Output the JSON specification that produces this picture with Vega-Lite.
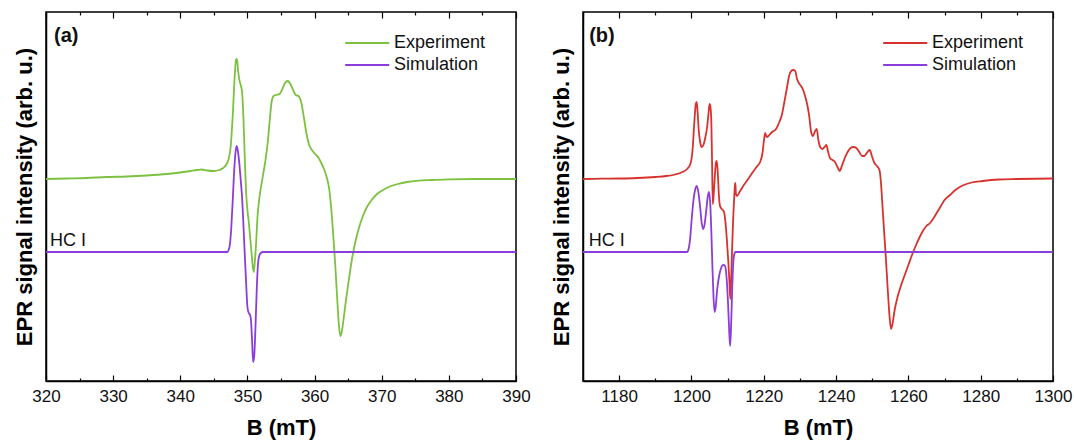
{
  "$schema": "https://vega.github.io/schema/vega-lite/v6.json",
  "padding": {"left": 12, "top": 10, "right": 0, "bottom": 0},
  "background": "white",
  "config": {
    "font": "Liberation Sans",
    "view": {"stroke": "black", "strokeWidth": 1.5},
    "axis": {
      "domainColor": "black", "domainWidth": 1.5, "tickColor": "black", "tickWidth": 1.2,
      "labelFont": "Liberation Sans", "labelFontSize": 17, "labelColor": "#111",
      "titleFont": "Liberation Sans", "titleFontSize": 22, "titleFontWeight": "bold", "titleColor": "black",
      "grid": false
    },
    "legend": {
      "labelFont": "Liberation Sans", "labelFontSize": 18, "labelColor": "#111",
      "symbolType": "M-1,0H4", "symbolSize": 310, "symbolStrokeWidth": 1.8,
      "labelOffset": 30, "rowPadding": 3, "padding": 0
    },
    "concat": {"spacing": 18}
  },
  "datasets": {
    "spectra": [
      {"panel": "a", "series": "Experiment", "B": 320, "I": 0.73},
      {"panel": "a", "series": "Experiment", "B": 323, "I": 0.735},
      {"panel": "a", "series": "Experiment", "B": 326, "I": 0.74},
      {"panel": "a", "series": "Experiment", "B": 329, "I": 0.75},
      {"panel": "a", "series": "Experiment", "B": 332, "I": 0.755},
      {"panel": "a", "series": "Experiment", "B": 335, "I": 0.765},
      {"panel": "a", "series": "Experiment", "B": 338, "I": 0.78},
      {"panel": "a", "series": "Experiment", "B": 340, "I": 0.795},
      {"panel": "a", "series": "Experiment", "B": 341.5, "I": 0.81},
      {"panel": "a", "series": "Experiment", "B": 342.5, "I": 0.82},
      {"panel": "a", "series": "Experiment", "B": 343.2, "I": 0.825},
      {"panel": "a", "series": "Experiment", "B": 344, "I": 0.815},
      {"panel": "a", "series": "Experiment", "B": 345, "I": 0.81},
      {"panel": "a", "series": "Experiment", "B": 345.8, "I": 0.82},
      {"panel": "a", "series": "Experiment", "B": 346.4, "I": 0.84},
      {"panel": "a", "series": "Experiment", "B": 346.9, "I": 0.88},
      {"panel": "a", "series": "Experiment", "B": 347.2, "I": 0.93},
      {"panel": "a", "series": "Experiment", "B": 347.5, "I": 1.05},
      {"panel": "a", "series": "Experiment", "B": 347.8, "I": 1.35},
      {"panel": "a", "series": "Experiment", "B": 348.1, "I": 1.75},
      {"panel": "a", "series": "Experiment", "B": 348.3, "I": 1.92},
      {"panel": "a", "series": "Experiment", "B": 348.45, "I": 1.93},
      {"panel": "a", "series": "Experiment", "B": 348.6, "I": 1.82},
      {"panel": "a", "series": "Experiment", "B": 348.8, "I": 1.72},
      {"panel": "a", "series": "Experiment", "B": 349.0, "I": 1.67},
      {"panel": "a", "series": "Experiment", "B": 349.2, "I": 1.6},
      {"panel": "a", "series": "Experiment", "B": 349.4, "I": 1.35},
      {"panel": "a", "series": "Experiment", "B": 349.6, "I": 0.95},
      {"panel": "a", "series": "Experiment", "B": 349.8, "I": 0.6},
      {"panel": "a", "series": "Experiment", "B": 350.0, "I": 0.42},
      {"panel": "a", "series": "Experiment", "B": 350.2, "I": 0.3},
      {"panel": "a", "series": "Experiment", "B": 350.4, "I": 0.15},
      {"panel": "a", "series": "Experiment", "B": 350.6, "I": 0.0},
      {"panel": "a", "series": "Experiment", "B": 350.8, "I": -0.15},
      {"panel": "a", "series": "Experiment", "B": 350.95, "I": -0.2},
      {"panel": "a", "series": "Experiment", "B": 351.1, "I": -0.1},
      {"panel": "a", "series": "Experiment", "B": 351.3, "I": 0.1},
      {"panel": "a", "series": "Experiment", "B": 351.5, "I": 0.35},
      {"panel": "a", "series": "Experiment", "B": 351.8, "I": 0.55},
      {"panel": "a", "series": "Experiment", "B": 352.2, "I": 0.72},
      {"panel": "a", "series": "Experiment", "B": 352.6, "I": 0.88},
      {"panel": "a", "series": "Experiment", "B": 353.0, "I": 1.08},
      {"panel": "a", "series": "Experiment", "B": 353.3, "I": 1.3},
      {"panel": "a", "series": "Experiment", "B": 353.6, "I": 1.5},
      {"panel": "a", "series": "Experiment", "B": 353.9, "I": 1.56},
      {"panel": "a", "series": "Experiment", "B": 354.3, "I": 1.57},
      {"panel": "a", "series": "Experiment", "B": 354.8, "I": 1.58},
      {"panel": "a", "series": "Experiment", "B": 355.2, "I": 1.63},
      {"panel": "a", "series": "Experiment", "B": 355.6, "I": 1.69},
      {"panel": "a", "series": "Experiment", "B": 356.0, "I": 1.71},
      {"panel": "a", "series": "Experiment", "B": 356.4, "I": 1.68},
      {"panel": "a", "series": "Experiment", "B": 356.8, "I": 1.62},
      {"panel": "a", "series": "Experiment", "B": 357.2, "I": 1.57},
      {"panel": "a", "series": "Experiment", "B": 357.6, "I": 1.56},
      {"panel": "a", "series": "Experiment", "B": 358.0, "I": 1.5},
      {"panel": "a", "series": "Experiment", "B": 358.4, "I": 1.35},
      {"panel": "a", "series": "Experiment", "B": 358.8, "I": 1.18},
      {"panel": "a", "series": "Experiment", "B": 359.2, "I": 1.07},
      {"panel": "a", "series": "Experiment", "B": 359.6, "I": 1.02},
      {"panel": "a", "series": "Experiment", "B": 360.1, "I": 0.98},
      {"panel": "a", "series": "Experiment", "B": 360.6, "I": 0.94},
      {"panel": "a", "series": "Experiment", "B": 361.0, "I": 0.89},
      {"panel": "a", "series": "Experiment", "B": 361.4, "I": 0.83},
      {"panel": "a", "series": "Experiment", "B": 361.8, "I": 0.75},
      {"panel": "a", "series": "Experiment", "B": 362.2, "I": 0.62},
      {"panel": "a", "series": "Experiment", "B": 362.5, "I": 0.42},
      {"panel": "a", "series": "Experiment", "B": 362.8, "I": 0.15},
      {"panel": "a", "series": "Experiment", "B": 363.1, "I": -0.15},
      {"panel": "a", "series": "Experiment", "B": 363.4, "I": -0.5},
      {"panel": "a", "series": "Experiment", "B": 363.65, "I": -0.75},
      {"panel": "a", "series": "Experiment", "B": 363.85, "I": -0.84},
      {"panel": "a", "series": "Experiment", "B": 364.05, "I": -0.8},
      {"panel": "a", "series": "Experiment", "B": 364.3, "I": -0.68},
      {"panel": "a", "series": "Experiment", "B": 364.7, "I": -0.47},
      {"panel": "a", "series": "Experiment", "B": 365.1, "I": -0.28},
      {"panel": "a", "series": "Experiment", "B": 365.5, "I": -0.1},
      {"panel": "a", "series": "Experiment", "B": 366.0, "I": 0.08},
      {"panel": "a", "series": "Experiment", "B": 366.6, "I": 0.24},
      {"panel": "a", "series": "Experiment", "B": 367.2, "I": 0.36},
      {"panel": "a", "series": "Experiment", "B": 367.8, "I": 0.45},
      {"panel": "a", "series": "Experiment", "B": 368.5, "I": 0.52},
      {"panel": "a", "series": "Experiment", "B": 369.3, "I": 0.58},
      {"panel": "a", "series": "Experiment", "B": 370.2, "I": 0.62},
      {"panel": "a", "series": "Experiment", "B": 371.2, "I": 0.655},
      {"panel": "a", "series": "Experiment", "B": 372.4, "I": 0.68},
      {"panel": "a", "series": "Experiment", "B": 373.8, "I": 0.7},
      {"panel": "a", "series": "Experiment", "B": 375.5, "I": 0.713},
      {"panel": "a", "series": "Experiment", "B": 377.5, "I": 0.72},
      {"panel": "a", "series": "Experiment", "B": 380, "I": 0.727},
      {"panel": "a", "series": "Experiment", "B": 384, "I": 0.73},
      {"panel": "a", "series": "Experiment", "B": 390, "I": 0.73},
      {"panel": "a", "series": "Simulation", "B": 320, "I": 0},
      {"panel": "a", "series": "Simulation", "B": 347.0, "I": 0},
      {"panel": "a", "series": "Simulation", "B": 347.2, "I": 0.02},
      {"panel": "a", "series": "Simulation", "B": 347.4, "I": 0.08},
      {"panel": "a", "series": "Simulation", "B": 347.6, "I": 0.25},
      {"panel": "a", "series": "Simulation", "B": 347.8, "I": 0.5},
      {"panel": "a", "series": "Simulation", "B": 348.0, "I": 0.78},
      {"panel": "a", "series": "Simulation", "B": 348.2, "I": 0.98},
      {"panel": "a", "series": "Simulation", "B": 348.4, "I": 1.06},
      {"panel": "a", "series": "Simulation", "B": 348.6, "I": 1.0},
      {"panel": "a", "series": "Simulation", "B": 348.8, "I": 0.88},
      {"panel": "a", "series": "Simulation", "B": 349.0, "I": 0.72},
      {"panel": "a", "series": "Simulation", "B": 349.2, "I": 0.55},
      {"panel": "a", "series": "Simulation", "B": 349.4, "I": 0.28},
      {"panel": "a", "series": "Simulation", "B": 349.6, "I": -0.02},
      {"panel": "a", "series": "Simulation", "B": 349.8, "I": -0.3},
      {"panel": "a", "series": "Simulation", "B": 350.0, "I": -0.55},
      {"panel": "a", "series": "Simulation", "B": 350.2, "I": -0.61},
      {"panel": "a", "series": "Simulation", "B": 350.4, "I": -0.63},
      {"panel": "a", "series": "Simulation", "B": 350.55, "I": -0.7},
      {"panel": "a", "series": "Simulation", "B": 350.7, "I": -0.9},
      {"panel": "a", "series": "Simulation", "B": 350.85, "I": -1.1},
      {"panel": "a", "series": "Simulation", "B": 351.0, "I": -1.05},
      {"panel": "a", "series": "Simulation", "B": 351.2, "I": -0.75},
      {"panel": "a", "series": "Simulation", "B": 351.4, "I": -0.35},
      {"panel": "a", "series": "Simulation", "B": 351.6, "I": -0.1},
      {"panel": "a", "series": "Simulation", "B": 351.8, "I": -0.03},
      {"panel": "a", "series": "Simulation", "B": 352.0, "I": -0.01},
      {"panel": "a", "series": "Simulation", "B": 352.3, "I": 0},
      {"panel": "a", "series": "Simulation", "B": 390, "I": 0},
      {"panel": "b", "series": "Experiment", "B": 1170, "I": 0.73},
      {"panel": "b", "series": "Experiment", "B": 1175, "I": 0.733},
      {"panel": "b", "series": "Experiment", "B": 1180, "I": 0.735},
      {"panel": "b", "series": "Experiment", "B": 1185, "I": 0.74},
      {"panel": "b", "series": "Experiment", "B": 1190, "I": 0.75},
      {"panel": "b", "series": "Experiment", "B": 1193, "I": 0.76},
      {"panel": "b", "series": "Experiment", "B": 1195.5, "I": 0.775},
      {"panel": "b", "series": "Experiment", "B": 1197.5, "I": 0.8},
      {"panel": "b", "series": "Experiment", "B": 1198.8, "I": 0.83},
      {"panel": "b", "series": "Experiment", "B": 1199.7, "I": 0.88},
      {"panel": "b", "series": "Experiment", "B": 1200.3, "I": 1.02},
      {"panel": "b", "series": "Experiment", "B": 1200.8, "I": 1.3},
      {"panel": "b", "series": "Experiment", "B": 1201.2, "I": 1.48},
      {"panel": "b", "series": "Experiment", "B": 1201.45, "I": 1.5},
      {"panel": "b", "series": "Experiment", "B": 1201.7, "I": 1.4},
      {"panel": "b", "series": "Experiment", "B": 1202.0, "I": 1.22},
      {"panel": "b", "series": "Experiment", "B": 1202.4, "I": 1.1},
      {"panel": "b", "series": "Experiment", "B": 1202.8, "I": 1.05},
      {"panel": "b", "series": "Experiment", "B": 1203.3, "I": 1.07},
      {"panel": "b", "series": "Experiment", "B": 1203.8, "I": 1.14},
      {"panel": "b", "series": "Experiment", "B": 1204.3, "I": 1.24},
      {"panel": "b", "series": "Experiment", "B": 1204.7, "I": 1.38},
      {"panel": "b", "series": "Experiment", "B": 1205.0, "I": 1.48},
      {"panel": "b", "series": "Experiment", "B": 1205.25, "I": 1.45},
      {"panel": "b", "series": "Experiment", "B": 1205.5, "I": 1.3},
      {"panel": "b", "series": "Experiment", "B": 1205.7, "I": 0.9},
      {"panel": "b", "series": "Experiment", "B": 1205.9, "I": 0.48},
      {"panel": "b", "series": "Experiment", "B": 1206.1, "I": 0.55},
      {"panel": "b", "series": "Experiment", "B": 1206.4, "I": 0.72},
      {"panel": "b", "series": "Experiment", "B": 1206.8, "I": 0.9},
      {"panel": "b", "series": "Experiment", "B": 1207.0, "I": 0.91},
      {"panel": "b", "series": "Experiment", "B": 1207.3, "I": 0.78},
      {"panel": "b", "series": "Experiment", "B": 1207.6, "I": 0.56},
      {"panel": "b", "series": "Experiment", "B": 1207.9, "I": 0.46},
      {"panel": "b", "series": "Experiment", "B": 1208.4, "I": 0.43},
      {"panel": "b", "series": "Experiment", "B": 1209.0, "I": 0.4},
      {"panel": "b", "series": "Experiment", "B": 1209.4, "I": 0.3},
      {"panel": "b", "series": "Experiment", "B": 1209.8, "I": 0.12},
      {"panel": "b", "series": "Experiment", "B": 1210.2, "I": -0.1},
      {"panel": "b", "series": "Experiment", "B": 1210.5, "I": -0.3},
      {"panel": "b", "series": "Experiment", "B": 1210.75, "I": -0.47},
      {"panel": "b", "series": "Experiment", "B": 1210.95, "I": -0.3},
      {"panel": "b", "series": "Experiment", "B": 1211.2, "I": -0.02},
      {"panel": "b", "series": "Experiment", "B": 1211.5, "I": 0.3},
      {"panel": "b", "series": "Experiment", "B": 1211.8, "I": 0.53},
      {"panel": "b", "series": "Experiment", "B": 1212.0, "I": 0.66},
      {"panel": "b", "series": "Experiment", "B": 1212.15, "I": 0.69},
      {"panel": "b", "series": "Experiment", "B": 1212.3, "I": 0.58},
      {"panel": "b", "series": "Experiment", "B": 1212.6, "I": 0.56},
      {"panel": "b", "series": "Experiment", "B": 1213.3, "I": 0.6},
      {"panel": "b", "series": "Experiment", "B": 1214.3, "I": 0.66},
      {"panel": "b", "series": "Experiment", "B": 1215.5, "I": 0.72},
      {"panel": "b", "series": "Experiment", "B": 1216.8, "I": 0.79},
      {"panel": "b", "series": "Experiment", "B": 1218.0, "I": 0.85},
      {"panel": "b", "series": "Experiment", "B": 1219.0, "I": 0.9},
      {"panel": "b", "series": "Experiment", "B": 1219.6, "I": 0.98},
      {"panel": "b", "series": "Experiment", "B": 1220.0, "I": 1.1},
      {"panel": "b", "series": "Experiment", "B": 1220.4, "I": 1.19},
      {"panel": "b", "series": "Experiment", "B": 1220.8, "I": 1.15},
      {"panel": "b", "series": "Experiment", "B": 1221.3, "I": 1.16},
      {"panel": "b", "series": "Experiment", "B": 1222.3, "I": 1.2},
      {"panel": "b", "series": "Experiment", "B": 1223.4, "I": 1.23},
      {"panel": "b", "series": "Experiment", "B": 1224.3, "I": 1.3},
      {"panel": "b", "series": "Experiment", "B": 1225.0, "I": 1.37},
      {"panel": "b", "series": "Experiment", "B": 1225.7, "I": 1.5},
      {"panel": "b", "series": "Experiment", "B": 1226.4, "I": 1.64},
      {"panel": "b", "series": "Experiment", "B": 1227.0, "I": 1.76},
      {"panel": "b", "series": "Experiment", "B": 1227.6, "I": 1.81},
      {"panel": "b", "series": "Experiment", "B": 1228.2, "I": 1.82},
      {"panel": "b", "series": "Experiment", "B": 1228.7, "I": 1.81},
      {"panel": "b", "series": "Experiment", "B": 1229.2, "I": 1.73},
      {"panel": "b", "series": "Experiment", "B": 1229.7, "I": 1.69},
      {"panel": "b", "series": "Experiment", "B": 1230.3, "I": 1.66},
      {"panel": "b", "series": "Experiment", "B": 1230.9, "I": 1.62},
      {"panel": "b", "series": "Experiment", "B": 1231.5, "I": 1.55},
      {"panel": "b", "series": "Experiment", "B": 1232.1, "I": 1.46},
      {"panel": "b", "series": "Experiment", "B": 1232.6, "I": 1.35},
      {"panel": "b", "series": "Experiment", "B": 1233.1, "I": 1.2},
      {"panel": "b", "series": "Experiment", "B": 1233.6, "I": 1.16},
      {"panel": "b", "series": "Experiment", "B": 1234.2, "I": 1.21},
      {"panel": "b", "series": "Experiment", "B": 1234.65, "I": 1.23},
      {"panel": "b", "series": "Experiment", "B": 1235.1, "I": 1.12},
      {"panel": "b", "series": "Experiment", "B": 1235.6, "I": 1.05},
      {"panel": "b", "series": "Experiment", "B": 1236.2, "I": 1.03},
      {"panel": "b", "series": "Experiment", "B": 1236.8, "I": 1.05},
      {"panel": "b", "series": "Experiment", "B": 1237.3, "I": 1.07},
      {"panel": "b", "series": "Experiment", "B": 1237.8, "I": 1.0},
      {"panel": "b", "series": "Experiment", "B": 1238.3, "I": 0.94},
      {"panel": "b", "series": "Experiment", "B": 1239.0, "I": 0.92},
      {"panel": "b", "series": "Experiment", "B": 1239.7, "I": 0.9},
      {"panel": "b", "series": "Experiment", "B": 1240.4, "I": 0.85},
      {"panel": "b", "series": "Experiment", "B": 1241.0, "I": 0.81},
      {"panel": "b", "series": "Experiment", "B": 1241.6, "I": 0.86},
      {"panel": "b", "series": "Experiment", "B": 1242.4, "I": 0.94},
      {"panel": "b", "series": "Experiment", "B": 1243.2, "I": 1.0},
      {"panel": "b", "series": "Experiment", "B": 1244.0, "I": 1.04},
      {"panel": "b", "series": "Experiment", "B": 1244.8, "I": 1.05},
      {"panel": "b", "series": "Experiment", "B": 1245.6, "I": 1.04},
      {"panel": "b", "series": "Experiment", "B": 1246.4, "I": 1.0},
      {"panel": "b", "series": "Experiment", "B": 1247.2, "I": 0.96},
      {"panel": "b", "series": "Experiment", "B": 1247.8, "I": 0.96},
      {"panel": "b", "series": "Experiment", "B": 1248.5, "I": 0.99},
      {"panel": "b", "series": "Experiment", "B": 1249.3, "I": 1.02},
      {"panel": "b", "series": "Experiment", "B": 1249.9, "I": 0.96},
      {"panel": "b", "series": "Experiment", "B": 1250.6, "I": 0.89},
      {"panel": "b", "series": "Experiment", "B": 1251.3, "I": 0.86},
      {"panel": "b", "series": "Experiment", "B": 1252.0, "I": 0.82},
      {"panel": "b", "series": "Experiment", "B": 1252.4, "I": 0.7},
      {"panel": "b", "series": "Experiment", "B": 1252.8, "I": 0.48},
      {"panel": "b", "series": "Experiment", "B": 1253.3, "I": 0.2},
      {"panel": "b", "series": "Experiment", "B": 1253.8, "I": -0.08},
      {"panel": "b", "series": "Experiment", "B": 1254.3, "I": -0.38},
      {"panel": "b", "series": "Experiment", "B": 1254.8, "I": -0.65},
      {"panel": "b", "series": "Experiment", "B": 1255.2, "I": -0.77},
      {"panel": "b", "series": "Experiment", "B": 1255.6, "I": -0.72},
      {"panel": "b", "series": "Experiment", "B": 1256.2, "I": -0.58},
      {"panel": "b", "series": "Experiment", "B": 1257.0, "I": -0.45},
      {"panel": "b", "series": "Experiment", "B": 1258.0, "I": -0.33},
      {"panel": "b", "series": "Experiment", "B": 1259.0, "I": -0.23},
      {"panel": "b", "series": "Experiment", "B": 1260.0, "I": -0.13},
      {"panel": "b", "series": "Experiment", "B": 1261.0, "I": -0.03},
      {"panel": "b", "series": "Experiment", "B": 1262.0, "I": 0.06},
      {"panel": "b", "series": "Experiment", "B": 1263.0, "I": 0.14},
      {"panel": "b", "series": "Experiment", "B": 1264.0, "I": 0.21},
      {"panel": "b", "series": "Experiment", "B": 1265.0, "I": 0.26},
      {"panel": "b", "series": "Experiment", "B": 1266.0, "I": 0.29},
      {"panel": "b", "series": "Experiment", "B": 1267.0, "I": 0.34},
      {"panel": "b", "series": "Experiment", "B": 1268.0, "I": 0.4},
      {"panel": "b", "series": "Experiment", "B": 1269.0, "I": 0.46},
      {"panel": "b", "series": "Experiment", "B": 1270.0, "I": 0.52},
      {"panel": "b", "series": "Experiment", "B": 1271.5, "I": 0.57},
      {"panel": "b", "series": "Experiment", "B": 1273.0, "I": 0.62},
      {"panel": "b", "series": "Experiment", "B": 1275.0, "I": 0.665},
      {"panel": "b", "series": "Experiment", "B": 1277.5, "I": 0.695},
      {"panel": "b", "series": "Experiment", "B": 1280.5, "I": 0.71},
      {"panel": "b", "series": "Experiment", "B": 1285, "I": 0.725},
      {"panel": "b", "series": "Experiment", "B": 1290, "I": 0.73},
      {"panel": "b", "series": "Experiment", "B": 1300, "I": 0.735},
      {"panel": "b", "series": "Simulation", "B": 1170, "I": 0},
      {"panel": "b", "series": "Simulation", "B": 1198.8, "I": 0},
      {"panel": "b", "series": "Simulation", "B": 1199.2, "I": 0.03},
      {"panel": "b", "series": "Simulation", "B": 1199.6, "I": 0.12},
      {"panel": "b", "series": "Simulation", "B": 1200.0, "I": 0.3},
      {"panel": "b", "series": "Simulation", "B": 1200.5, "I": 0.5},
      {"panel": "b", "series": "Simulation", "B": 1201.0, "I": 0.62},
      {"panel": "b", "series": "Simulation", "B": 1201.45, "I": 0.66},
      {"panel": "b", "series": "Simulation", "B": 1201.9, "I": 0.6},
      {"panel": "b", "series": "Simulation", "B": 1202.4, "I": 0.45},
      {"panel": "b", "series": "Simulation", "B": 1202.8, "I": 0.3},
      {"panel": "b", "series": "Simulation", "B": 1203.2, "I": 0.23},
      {"panel": "b", "series": "Simulation", "B": 1203.6, "I": 0.27},
      {"panel": "b", "series": "Simulation", "B": 1204.1, "I": 0.42},
      {"panel": "b", "series": "Simulation", "B": 1204.5, "I": 0.55},
      {"panel": "b", "series": "Simulation", "B": 1204.85, "I": 0.6},
      {"panel": "b", "series": "Simulation", "B": 1205.2, "I": 0.48},
      {"panel": "b", "series": "Simulation", "B": 1205.5, "I": 0.2},
      {"panel": "b", "series": "Simulation", "B": 1205.8, "I": -0.15},
      {"panel": "b", "series": "Simulation", "B": 1206.1, "I": -0.45},
      {"panel": "b", "series": "Simulation", "B": 1206.4, "I": -0.6},
      {"panel": "b", "series": "Simulation", "B": 1206.7, "I": -0.55},
      {"panel": "b", "series": "Simulation", "B": 1207.1, "I": -0.38},
      {"panel": "b", "series": "Simulation", "B": 1207.6, "I": -0.25},
      {"panel": "b", "series": "Simulation", "B": 1208.2, "I": -0.16},
      {"panel": "b", "series": "Simulation", "B": 1208.8, "I": -0.13},
      {"panel": "b", "series": "Simulation", "B": 1209.3, "I": -0.14},
      {"panel": "b", "series": "Simulation", "B": 1209.7, "I": -0.25},
      {"panel": "b", "series": "Simulation", "B": 1210.1, "I": -0.5},
      {"panel": "b", "series": "Simulation", "B": 1210.45, "I": -0.8},
      {"panel": "b", "series": "Simulation", "B": 1210.7, "I": -0.94},
      {"panel": "b", "series": "Simulation", "B": 1210.95, "I": -0.75},
      {"panel": "b", "series": "Simulation", "B": 1211.2, "I": -0.45},
      {"panel": "b", "series": "Simulation", "B": 1211.5, "I": -0.15},
      {"panel": "b", "series": "Simulation", "B": 1211.8, "I": -0.03},
      {"panel": "b", "series": "Simulation", "B": 1212.2, "I": 0},
      {"panel": "b", "series": "Simulation", "B": 1300, "I": 0}
    ]
  },
  "hconcat": [
    {
      "width": 470,
      "height": 369,
      "layer": [
        {
          "data": {"name": "spectra"},
          "transform": [{"filter": "datum.panel === 'a'"}],
          "mark": {"type": "line", "strokeWidth": 1.8, "interpolate": "monotone"},
          "encoding": {
            "x": {
              "field": "B", "type": "quantitative",
              "scale": {"domain": [320, 390], "nice": false, "zero": false},
              "axis": {
                "title": "B (mT)",
                "values": [320, 325, 330, 335, 340, 345, 350, 355, 360, 365, 370, 375, 380, 385, 390],
                "labelExpr": "datum.value % 10 === 0 ? datum.label : ''",
                "tickSize": {"condition": {"test": "datum.value % 10 === 0", "value": -6}, "value": -3},
                "labelPadding": 13.5, "titlePadding": 10, "labelFlush": false, "labelOverlap": false
              }
            },
            "y": {
              "field": "I", "type": "quantitative",
              "scale": {"domain": [-1.29, 2.4], "nice": false, "zero": false},
              "axis": {"title": "EPR signal intensity (arb. u.)", "labels": false, "ticks": false, "titlePadding": 10}
            },
            "color": {
              "field": "series", "type": "nominal",
              "scale": {"domain": ["Experiment", "Simulation"], "range": ["#7cc13f", "#8a3ddb"]},
              "legend": {"title": null, "orient": "none", "legendX": 298, "legendY": 21}
            }
          }
        },
        {
          "data": {"values": [{"B": 321.2, "I": 2.16, "label": "(a)"}]},
          "mark": {"type": "text", "align": "left", "baseline": "middle", "fontWeight": "bold", "fontSize": 20, "color": "#111"},
          "encoding": {
            "x": {
              "field": "B", "type": "quantitative",
              "axis": {
                "orient": "top", "labels": false, "title": null, "domain": false,
                "values": [320, 325, 330, 335, 340, 345, 350, 355, 360, 365, 370, 375, 380, 385, 390],
                "tickSize": {"condition": {"test": "datum.value % 10 === 0", "value": -6}, "value": -3}
              }
            },
            "y": {"field": "I", "type": "quantitative"},
            "text": {"field": "label"}
          }
        },
        {
          "data": {"values": [{"B": 320.6, "I": 0.11, "label": "HC I"}]},
          "mark": {"type": "text", "align": "left", "baseline": "middle", "fontSize": 18, "color": "#111"},
          "encoding": {
            "x": {"field": "B", "type": "quantitative", "axis": null},
            "y": {"field": "I", "type": "quantitative"},
            "text": {"field": "label"}
          }
        }
      ],
      "resolve": {"axis": {"x": "independent"}}
    },
    {
      "width": 470,
      "height": 369,
      "layer": [
        {
          "data": {"name": "spectra"},
          "transform": [{"filter": "datum.panel === 'b'"}],
          "mark": {"type": "line", "strokeWidth": 1.8, "interpolate": "monotone"},
          "encoding": {
            "x": {
              "field": "B", "type": "quantitative",
              "scale": {"domain": [1170, 1300], "nice": false, "zero": false},
              "axis": {
                "title": "B (mT)", "format": "d",
                "values": [1170, 1180, 1190, 1200, 1210, 1220, 1230, 1240, 1250, 1260, 1270, 1280, 1290, 1300],
                "labelExpr": "datum.value % 20 === 0 ? datum.label : ''",
                "tickSize": {"condition": {"test": "datum.value % 20 === 0", "value": -6}, "value": -3},
                "labelPadding": 13.5, "titlePadding": 10, "labelFlush": false, "labelOverlap": false
              }
            },
            "y": {
              "field": "I", "type": "quantitative",
              "scale": {"domain": [-1.29, 2.4], "nice": false, "zero": false},
              "axis": {"title": "EPR signal intensity (arb. u.)", "labels": false, "ticks": false, "titlePadding": 10}
            },
            "color": {
              "field": "series", "type": "nominal",
              "scale": {"domain": ["Experiment", "Simulation"], "range": ["#d8322e", "#8a3ddb"]},
              "legend": {"title": null, "orient": "none", "legendX": 299, "legendY": 21}
            }
          }
        },
        {
          "data": {"values": [{"B": 1171.7, "I": 2.16, "label": "(b)"}]},
          "mark": {"type": "text", "align": "left", "baseline": "middle", "fontWeight": "bold", "fontSize": 20, "color": "#111"},
          "encoding": {
            "x": {
              "field": "B", "type": "quantitative",
              "axis": {
                "orient": "top", "labels": false, "title": null, "domain": false,
                "values": [1170, 1180, 1190, 1200, 1210, 1220, 1230, 1240, 1250, 1260, 1270, 1280, 1290, 1300],
                "tickSize": {"condition": {"test": "datum.value % 20 === 0", "value": -6}, "value": -3}
              }
            },
            "y": {"field": "I", "type": "quantitative"},
            "text": {"field": "label"}
          }
        },
        {
          "data": {"values": [{"B": 1171.6, "I": 0.11, "label": "HC I"}]},
          "mark": {"type": "text", "align": "left", "baseline": "middle", "fontSize": 18, "color": "#111"},
          "encoding": {
            "x": {"field": "B", "type": "quantitative", "axis": null},
            "y": {"field": "I", "type": "quantitative"},
            "text": {"field": "label"}
          }
        }
      ],
      "resolve": {"axis": {"x": "independent"}}
    }
  ],
  "resolve": {"scale": {"color": "independent", "x": "independent", "y": "independent"}}
}
